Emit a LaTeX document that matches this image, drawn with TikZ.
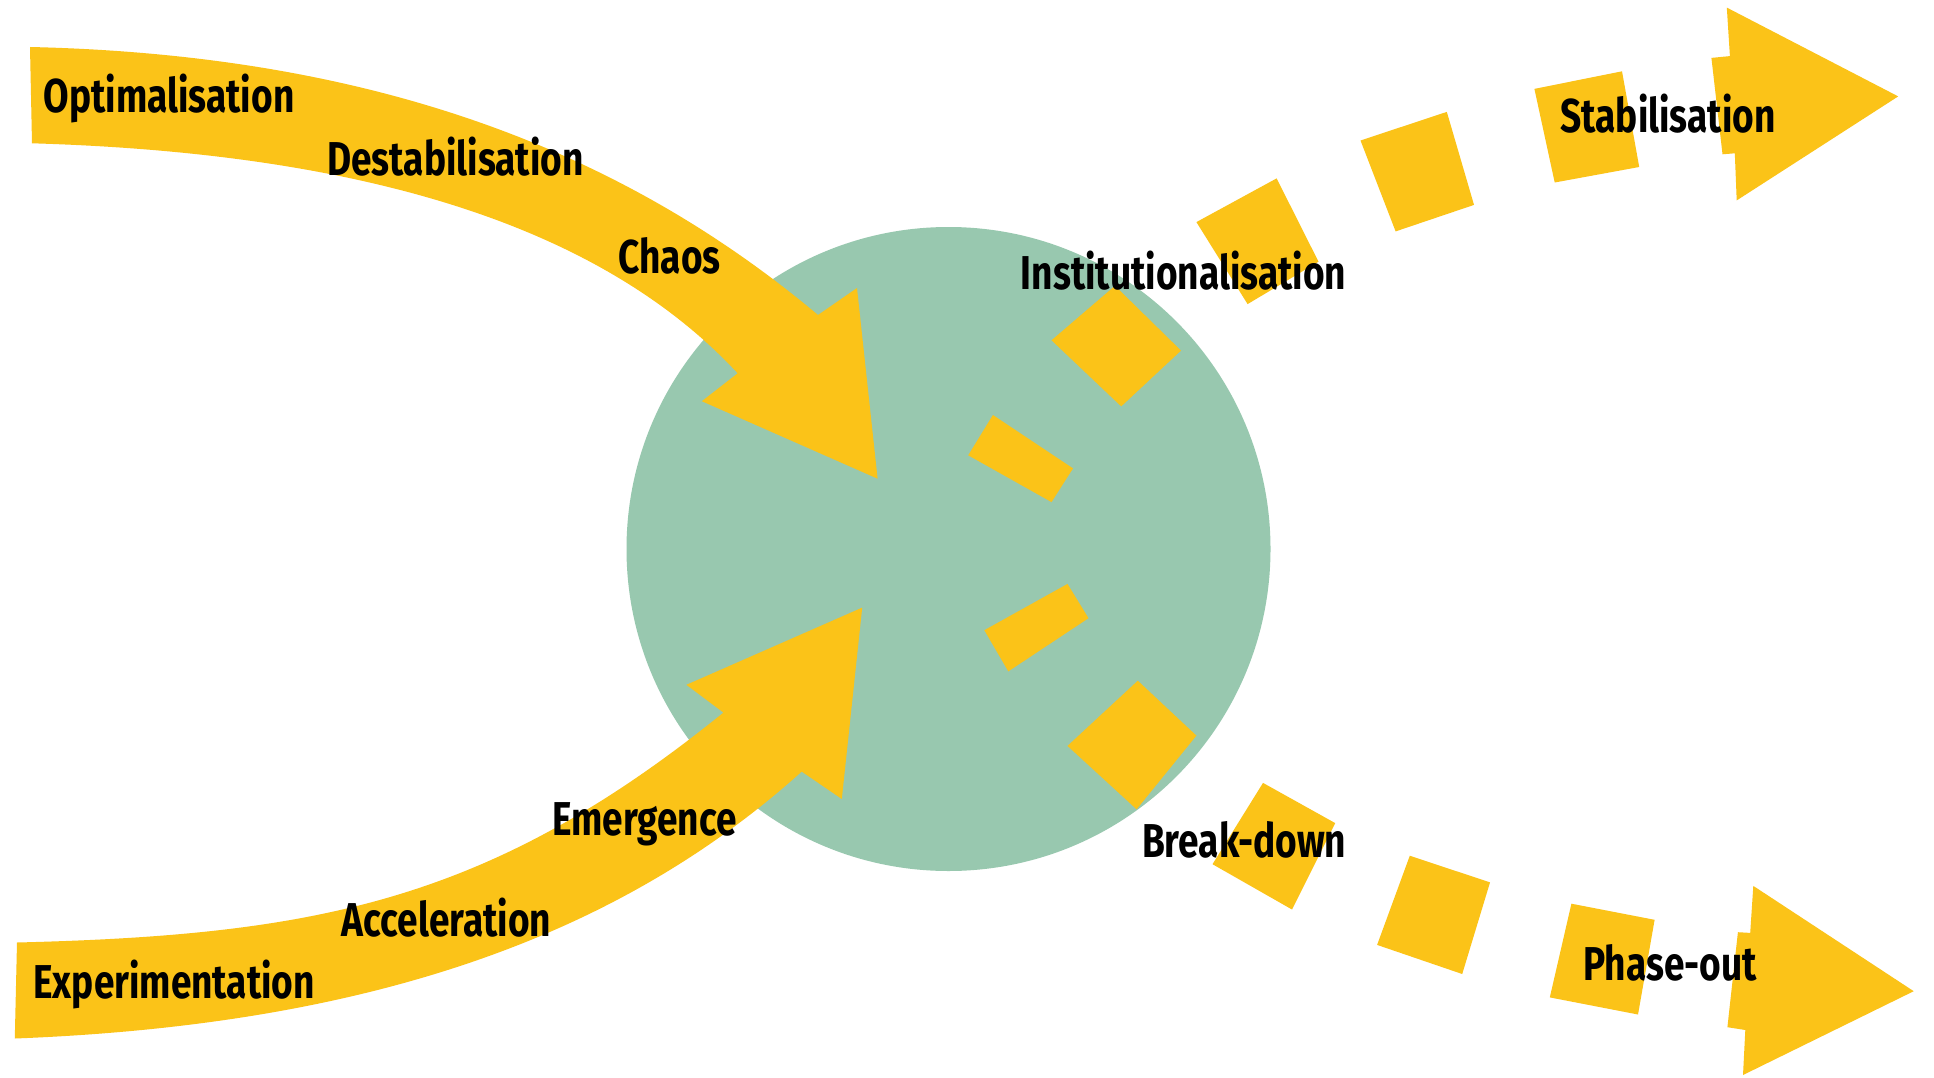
\documentclass[tikz,border=0pt]{standalone}
\usepackage{fontspec}
\newfontfamily\labfont{Fira Sans}[FakeStretch=0.78]
\definecolor{ylw}{RGB}{251,195,24}
\definecolor{grn}{RGB}{152,200,175}
\begin{document}
\begin{tikzpicture}[x=1pt,y=-1pt,
  lab/.style={anchor=base,inner sep=0pt,font=\labfont\bfseries\fontsize{47.5}{50}\selectfont,text=black},
  band/.style={fill=ylw,draw=none}]
\useasboundingbox (0,0) rectangle (1934,1078);
\fill[white] (0,0) rectangle (1934,1078);
% circle
\node[circle,fill=grn,draw=none,minimum size=644pt,inner sep=0pt] (core) at (948.5,549) {};
% incoming top arrow
\path[band] (30,47) .. controls (380,55) and (626.5,154.3) .. (818,315)
  -- (857,288) -- (877.6,478.7) -- (701.8,401.2) -- (737.7,373.3)
  .. controls (600,225) and (362,153) .. (32,143.3) -- cycle;
% incoming bottom arrow
\path[band] (17,942.5) .. controls (317,935) and (490.3,901.3) .. (723.4,712.6)
  -- (686.4,684.8) -- (862.2,607.6) -- (841.8,799) -- (801.7,771.6)
  .. controls (615.9,938.9) and (364.8,1025) .. (14.8,1038.5) -- cycle;
% outgoing top dashed arrow
\path[band] (968.2,455.3) -- (992.9,415) -- (1073,468.4) -- (1051.5,502.1) -- cycle;
\path[band] (1051.5,340.3) -- (1115,285.8) -- (1181,350.6) -- (1121.2,406.4) -- cycle;
\path[band] (1196.4,222.1) -- (1276.6,178.4) -- (1318.5,261.7) -- (1247.6,304.1) -- cycle;
\path[band] (1360.5,140.5) -- (1446.8,111.9) -- (1474,204.9) -- (1395.6,231.4) -- cycle;
\path[band] (1534.4,88.9) -- (1622,71.3) -- (1639.2,167) -- (1554.7,182.5) -- cycle;
\path[band] (1711.4,57.9) -- (1729.9,56.1) -- (1726.8,7.6) -- (1898.2,96.4)
  -- (1736.7,200.4) -- (1734.8,153.3) -- (1722.5,154.3) -- cycle;
% outgoing bottom dashed arrow
\path[band] (984.3,630.2) -- (1067.5,583.9) -- (1088.5,618.2) -- (1008.3,671.4) -- cycle;
\path[band] (1067.5,745.9) -- (1137.8,680.7) -- (1196.4,735.6) -- (1136.6,809.3) -- cycle;
\path[band] (1212.5,864.2) -- (1263,782.9) -- (1335.2,823.1) -- (1292,909.5) -- cycle;
\path[band] (1377.1,944.9) -- (1409.8,855.7) -- (1490,882.4) -- (1462.2,974) -- cycle;
\path[band] (1549.8,997.4) -- (1571.4,903.7) -- (1654.6,919.8) -- (1638,1014.5) -- cycle;
\path[band] (1737.9,932.2) -- (1750.2,932.9) -- (1753.3,885.9) -- (1913.7,991.2)
  -- (1743,1075) -- (1745.3,1030) -- (1727.4,1027.2) -- cycle;
% labels
\node[lab] (opt) at (169,112.6) {Optimalisation};
\node[lab] (dest) at (455.5,175.6) {Destabilisation};
\node[lab] (chaos) at (669.7,273.8) {Chaos};
\node[lab] (inst) at (1183.5,289.3) {Institutionalisation};
\node[lab] (stab) at (1668,132.6) {Stabilisation};
\node[lab] (emer) at (644.5,835) {Emergence};
\node[lab] (acc) at (446.5,936.3) {Acceleration};
\node[lab] (exp) at (174.2,998) {Experimentation};
\node[lab] (brk) at (1244.2,857.4) {Break-down};
\node[lab] (phase) at (1670,980.9) {Phase-out};
\end{tikzpicture}
\end{document}
